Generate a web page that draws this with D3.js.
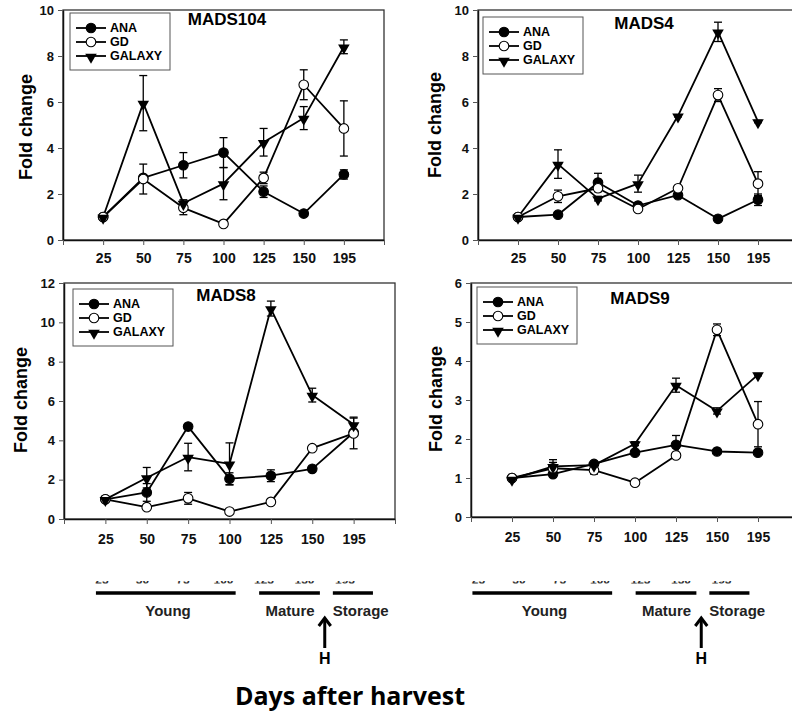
<!DOCTYPE html>
<html>
<head>
<meta charset="utf-8">
<script src="https://cdn.jsdelivr.net/npm/d3@7"></script>
<style>
  body { margin: 0; background: #fff; }
  svg { display: block; font-family: "Liberation Sans", Arial, sans-serif; }
</style>
</head>
<body>
<div id="chart"></div>
<script>
// sampling days (x categories)
const days = ["25", "50", "75", "100", "125", "150", "195"];
const seriesNames = ["ANA", "GD", "GALAXY"];
const stageNames = ["Young", "Mature", "Storage"];

// MADS104
const mads104Ana = [1.0, 2.7, 3.25, 3.8, 2.1, 1.15, 2.85];
const mads104AnaErr = [0, 0.1, 0.55, 0.65, 0.25, 0.05, 0.2];
const mads104Gd = [1.0, 2.65, 1.4, 0.7, 2.7, 6.75, 4.85];
const mads104GdErr = [0, 0.65, 0.3, 0, 0.25, 0.65, 1.2];
const mads104Galaxy = [1.0, 5.95, 1.6, 2.45, 4.25, 5.3, 8.4];
const mads104GalaxyErr = [0, 1.2, 0.15, 0.7, 0.6, 0.5, 0.3];

// MADS4
const mads4Ana = [1.0, 1.1, 2.5, 1.5, 1.95, 0.92, 1.75];
const mads4AnaErr = [0, 0.05, 0.4, 0.1, 0.1, 0.05, 0.25];
const mads4Gd = [1.0, 1.9, 2.25, 1.35, 2.25, 6.3, 2.45];
const mads4GdErr = [0, 0.27, 0.1, 0.05, 0.1, 0.28, 0.52];
const mads4Galaxy = [1.0, 3.3, 1.8, 2.45, 5.4, 9.05, 5.15];
const mads4GalaxyErr = [0, 0.62, 0.1, 0.37, 0.05, 0.42, 0.05];

// MADS8
const mads8Ana = [1.0, 1.35, 4.7, 2.05, 2.2, 2.55, 4.4];
const mads8AnaErr = [0, 0.45, 0.1, 0.3, 0.3, 0.1, 0.1];
const mads8Gd = [1.0, 0.6, 1.05, 0.38, 0.87, 3.6, 4.35];
const mads8GdErr = [0, 0.05, 0.3, 0, 0.05, 0.05, 0.78];
const mads8Galaxy = [1.0, 2.1, 3.15, 2.8, 10.7, 6.3, 4.8];
const mads8GalaxyErr = [0, 0.52, 0.7, 1.07, 0.38, 0.35, 0.38];

// MADS9
const mads9Ana = [1.0, 1.1, 1.36, 1.65, 1.85, 1.68, 1.65];
const mads9AnaErr = [0, 0.05, 0.03, 0.05, 0.24, 0.03, 0.03];
const mads9Gd = [1.0, 1.25, 1.2, 0.88, 1.58, 4.8, 2.38];
const mads9GdErr = [0, 0.15, 0.1, 0, 0.03, 0.15, 0.58];
const mads9Galaxy = [0.97, 1.3, 1.33, 1.88, 3.38, 2.72, 3.65];
const mads9GalaxyErr = [0, 0.17, 0.03, 0.05, 0.18, 0.08, 0.03];

// panel layout
const panels = [
    {title: "MADS104", yMax: 10, yStep: 2, x0: 63, x1: 384, top: 10, bottom: 240,
     vals: [mads104Ana, mads104Gd, mads104Galaxy], errs: [mads104AnaErr, mads104GdErr, mads104GalaxyErr],
     legend: [70, 13], titleAt: [227, 25], ylab: [26, 127], xPad: 8},
    {title: "MADS4", yMax: 10, yStep: 2, x0: 478, x1: 798, top: 10, bottom: 240,
     vals: [mads4Ana, mads4Gd, mads4Galaxy], errs: [mads4AnaErr, mads4GdErr, mads4GalaxyErr],
     legend: [483, 17], titleAt: [644, 29], ylab: [435, 125], xPad: 8},
    {title: "MADS8", yMax: 12, yStep: 2, x0: 64, x1: 395, top: 283, bottom: 519,
     vals: [mads8Ana, mads8Gd, mads8Galaxy], errs: [mads8AnaErr, mads8GdErr, mads8GalaxyErr],
     legend: [73, 289], titleAt: [226, 301], ylab: [21, 400], xPad: 10},
    {title: "MADS9", yMax: 6, yStep: 1, x0: 471, x1: 799, top: 283, bottom: 517,
     vals: [mads9Ana, mads9Gd, mads9Galaxy], errs: [mads9AnaErr, mads9GdErr, mads9GalaxyErr],
     legend: [477, 287], titleAt: [640, 304], ylab: [436, 399], xPad: 10}
];

const svg = d3.select("#chart").append("svg")
    .attr("width", 792)
    .attr("height", 712);

// marker drawing: 0 = filled circle, 1 = open circle, 2 = down triangle
function drawMarker(g, kind, cx, cy) {
    if (kind === 2) {
        g.append("path")
            .attr("d", d3.symbol().type(d3.symbolTriangle).size(58)())
            .attr("transform", `translate(${cx},${cy + 1}) rotate(180)`)
            .attr("fill", "#000");
    } else {
        g.append("circle")
            .attr("cx", cx).attr("cy", cy).attr("r", 4.8)
            .attr("fill", kind === 0 ? "#000" : "#fff")
            .attr("stroke", "#000")
            .attr("stroke-width", 1.1);
    }
}

panels.forEach(p => {
    const g = svg.append("g");

    const x = d3.scaleLinear().domain([0, days.length + 1]).range([p.x0, p.x1]);
    const y = d3.scaleLinear().domain([0, p.yMax]).range([p.bottom, p.top]);

    // frame
    g.append("rect")
        .attr("x", p.x0).attr("y", p.top)
        .attr("width", p.x1 - p.x0).attr("height", p.bottom - p.top)
        .attr("fill", "none")
        .attr("stroke", "#333")
        .attr("stroke-width", 1.3);

    // y axis
    const ya = g.append("g")
        .attr("transform", `translate(${p.x0},0)`)
        .call(d3.axisLeft(y)
            .tickValues(d3.range(0, p.yMax + 0.001, p.yStep))
            .tickFormat(d3.format("d"))
            .tickSize(5).tickSizeOuter(0).tickPadding(4));
    ya.selectAll("text").style("font-size", "13px").style("font-weight", "bold").attr("fill", "#111");

    // x axis
    const xa = g.append("g")
        .attr("transform", `translate(0,${p.bottom})`)
        .call(d3.axisBottom(x)
            .tickValues(d3.range(0, days.length + 2))
            .tickFormat(i => (i >= 1 && i <= days.length) ? days[i - 1] : "")
            .tickSize(5).tickSizeOuter(0).tickPadding(p.xPad));
    xa.selectAll("text").style("font-size", "14px").style("font-weight", "bold").attr("fill", "#111");

    [ya, xa].forEach(a => {
        a.select(".domain").attr("stroke", "#111").attr("stroke-width", 1.5);
        a.selectAll(".tick line").attr("stroke", "#555").attr("stroke-width", 1);
    });

    // y label
    g.append("text")
        .attr("transform", `translate(${p.ylab[0]},${p.ylab[1]}) rotate(-90)`)
        .attr("text-anchor", "middle")
        .attr("dominant-baseline", "central")
        .style("font-size", "18px").style("font-weight", "bold")
        .text("Fold change");

    // title
    g.append("text")
        .attr("x", p.titleAt[0]).attr("y", p.titleAt[1])
        .attr("text-anchor", "middle")
        .style("font-size", "17px").style("font-weight", "bold")
        .text(p.title);

    // series: line, error bars, then symbols
    p.vals.forEach((vals, s) => {
        const errs = p.errs[s];
        const line = d3.line().x((d, i) => x(i + 1)).y(d => y(d));
        g.append("path")
            .datum(vals)
            .attr("fill", "none")
            .attr("stroke", "#000")
            .attr("stroke-width", 1.8)
            .attr("stroke-linejoin", "round")
            .attr("d", line);

        vals.forEach((v, i) => {
            const e = errs[i];
            if (e <= 0) return;
            const cx = x(i + 1);
            g.append("line")
                .attr("x1", cx).attr("x2", cx)
                .attr("y1", y(v - e)).attr("y2", y(v + e))
                .attr("stroke", "#000").attr("stroke-width", 1.3);
            [v - e, v + e].forEach(yy => {
                g.append("line")
                    .attr("x1", cx - 4).attr("x2", cx + 4)
                    .attr("y1", y(yy)).attr("y2", y(yy))
                    .attr("stroke", "#000").attr("stroke-width", 1.3);
            });
        });
    });
    p.vals.forEach((vals, s) => {
        vals.forEach((v, i) => drawMarker(g, s, x(i + 1), y(v)));
    });

    // legend
    const lx = p.legend[0], ly = p.legend[1];
    g.append("rect")
        .attr("x", lx).attr("y", ly)
        .attr("width", 100).attr("height", 57)
        .attr("fill", "#fff")
        .attr("stroke", "#555")
        .attr("stroke-width", 1);
    seriesNames.forEach((name, s) => {
        const yy = ly + 15 + s * 14;
        g.append("line")
            .attr("x1", lx + 6).attr("x2", lx + 36)
            .attr("y1", yy).attr("y2", yy)
            .attr("stroke", "#000").attr("stroke-width", 1.8);
        drawMarker(g, s, lx + 21, yy);
        g.append("text")
            .attr("x", lx + 40).attr("y", yy)
            .attr("dominant-baseline", "central")
            .style("font-size", "12.5px").style("font-weight", "bold")
            .text(name);
    });
});

// growth stage strips under the bottom panels
const defs = svg.append("defs");
[102, 478.5].forEach((start, k) => {
    const t = d3.scaleLinear().domain([1, days.length]).range([start, start + 6 * 40.5]);
    const g = svg.append("g");

    // cut-off day numbers (only their lower edge is visible)
    const clipId = "cut" + k;
    defs.append("clipPath").attr("id", clipId)
        .append("rect").attr("x", start - 20).attr("y", 581).attr("width", 320).attr("height", 2.5);
    g.append("g").attr("clip-path", `url(#${clipId})`)
        .selectAll("text").data(days).join("text")
        .attr("x", (d, i) => t(i + 1))
        .attr("y", 583.5)
        .attr("text-anchor", "middle")
        .style("font-size", "12px").style("font-weight", "bold")
        .attr("fill", "#333")
        .text(d => d);

    const spans = [[0.85, 4.3], [4.88, 6.38], [6.7, 7.69]];
    spans.forEach(sp => {
        g.append("line")
            .attr("x1", t(sp[0])).attr("x2", t(sp[1]))
            .attr("y1", 593).attr("y2", 593)
            .attr("stroke", "#000").attr("stroke-width", 3.5);
    });

    const labelPos = [[2.63, "middle"], [6.25, "end"], [6.7, "start"]];
    stageNames.forEach((name, i) => {
        g.append("text")
            .attr("x", t(labelPos[i][0])).attr("y", 616)
            .attr("text-anchor", labelPos[i][1])
            .style("font-size", "15px").style("font-weight", "bold")
            .attr("fill", "#222")
            .text(name);
    });

    // harvest arrow
    const ax = t(6.5);
    g.append("line")
        .attr("x1", ax).attr("x2", ax).attr("y1", 648).attr("y2", 619)
        .attr("stroke", "#000").attr("stroke-width", 3);
    g.append("path")
        .attr("d", `M${ax - 6},626 L${ax},618 L${ax + 6},626`)
        .attr("fill", "none").attr("stroke", "#000").attr("stroke-width", 3);
    g.append("text")
        .attr("x", ax).attr("y", 664)
        .attr("text-anchor", "middle")
        .style("font-size", "16px").style("font-weight", "bold")
        .text("H");
});

svg.append("text")
    .attr("x", 350).attr("y", 705)
    .attr("text-anchor", "middle")
    .style("font-family", "'Open Sans', 'Noto Sans', sans-serif")
    .style("font-size", "25px").style("font-weight", "bold")
    .text("Days after harvest");
</script>
</body>
</html>
